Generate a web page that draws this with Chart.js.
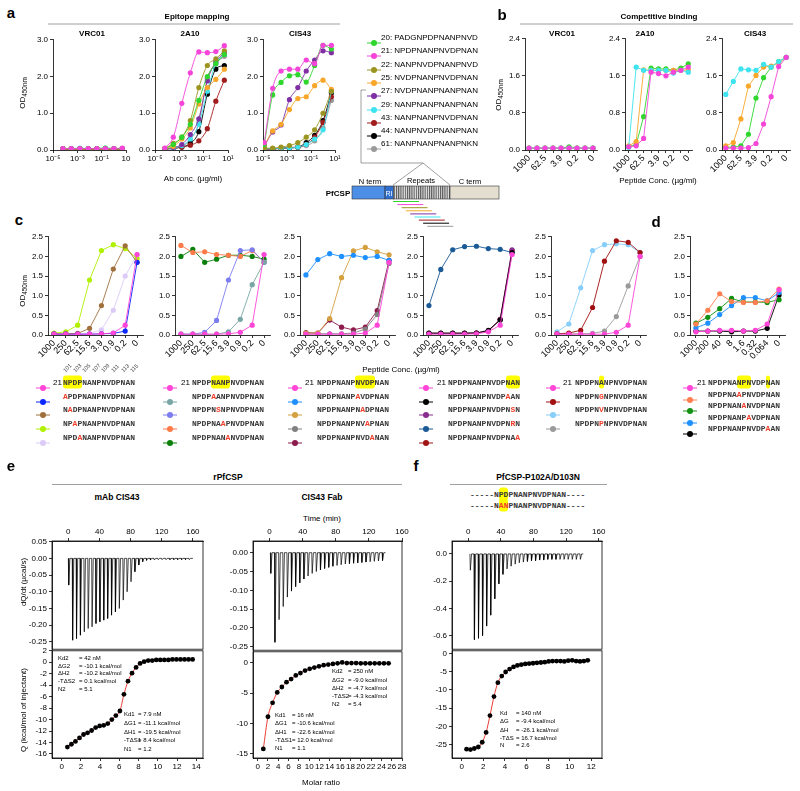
<!DOCTYPE html>
<html><head><meta charset="utf-8">
<script src="https://cdn.jsdelivr.net/npm/chart.js@4.4.1/dist/chart.umd.min.js"></script>
<style>
body{margin:0;background:#fff;width:800px;height:791px;position:relative;overflow:hidden;font-family:'Liberation Sans',Arial,sans-serif;}
.t{position:absolute;white-space:nowrap;line-height:1;color:#000;}
.t sub{font-size:0.8em;vertical-align:-0.25em;}
.hl{background:#ffff00;border-radius:3px;padding:2px 0;}
canvas{position:absolute;}
</style></head><body>
<svg id="sk" width="800" height="791" style="position:absolute;left:0;top:0"></svg>
<script>
// ---------- panel a: epitope mapping ----------
const conc8 = [0.000064, 0.00032, 0.0016, 0.008, 0.04, 0.2, 1, 5];
const conc9 = [0.0000128, 0.000064, 0.00032, 0.0016, 0.008, 0.04, 0.2, 1, 5];
const pepNames = ['20: PADGNPDPNANPNVD', '21: NPDPNANPNVDPNAN', '22: NANPNVDPNANPNVD', '25: NVDPNANPNVDPNAN',
  '27: NVDPNANPNANPNAN', '29: NANPNANPNANPNAN', '43: NANPNANPNVDPNAN', '44: NANPNVDPNANPNAN', '61: NANPNANPNANPNKN'];
const pepColors = ['#2ed62e', '#f545d9', '#9c9420', '#f9a72a', '#7f2fa3', '#3de3ef', '#a11c1c', '#000000', '#9a9a9a'];
const aVRC01 = [
  [0.04, 0.04, 0.04, 0.04, 0.04, 0.05, 0.04, 0.04],
  [0.04, 0.04, 0.04, 0.04, 0.04, 0.04, 0.04, 0.05],
  [0.03, 0.03, 0.03, 0.03, 0.03, 0.03, 0.03, 0.03],
  [0.03, 0.03, 0.03, 0.03, 0.03, 0.03, 0.03, 0.03],
  [0.03, 0.03, 0.03, 0.03, 0.03, 0.03, 0.03, 0.03],
  [0.04, 0.04, 0.05, 0.04, 0.04, 0.05, 0.04, 0.04],
  [0.03, 0.03, 0.03, 0.03, 0.03, 0.03, 0.03, 0.03],
  [0.03, 0.03, 0.03, 0.03, 0.03, 0.03, 0.03, 0.03],
  [0.03, 0.03, 0.03, 0.03, 0.03, 0.03, 0.03, 0.03]];
const a2A10 = [
  [0.04, 0.15, 0.35, 0.7, 1.35, 2.0, 2.35, 2.6],
  [0.05, 0.35, 1.27, 2.1, 2.67, 2.65, 2.68, 2.84],
  [0.04, 0.18, 0.35, 0.8, 1.7, 2.3, 2.48, 2.7],
  [0.04, 0.1, 0.3, 0.6, 1.25, 1.7, 1.92, 2.2],
  [0.03, 0.07, 0.15, 0.42, 0.85, 1.88, 2.4, 2.65],
  [0.03, 0.05, 0.12, 0.3, 0.7, 1.6, 2.35, 2.6],
  [0.02, 0.04, 0.08, 0.13, 0.25, 0.58, 1.33, 1.9],
  [0.03, 0.05, 0.08, 0.18, 0.5, 1.52, 2.2, 2.3],
  [0.03, 0.05, 0.1, 0.28, 0.75, 1.95, 2.35, 2.55]];
const aCIS43 = [
  [0.15, 1.5, 1.84, 2.02, 2.05, 1.85, 2.3, 2.85, 2.75],
  [0.2, 1.68, 2.15, 2.2, 2.2, 2.45, 2.35, 2.85, 2.85],
  [0.05, 0.05, 0.08, 0.12, 0.2, 0.35, 0.55, 1.0, 1.6],
  [0.12, 0.52, 0.7, 1.1, 1.4, 1.45, 1.75, 1.9, 1.65],
  [0.1, 0.49, 0.68, 1.37, 1.7, 2.15, 2.45, 2.7, 2.65],
  [0.04, 0.04, 0.05, 0.06, 0.08, 0.15, 0.3, 0.55, 1.6],
  [0.03, 0.03, 0.05, 0.07, 0.08, 0.15, 0.35, 0.75, 1.45],
  [0.03, 0.03, 0.05, 0.06, 0.08, 0.2, 0.4, 0.8, 1.55],
  [0.03, 0.03, 0.04, 0.05, 0.07, 0.12, 0.25, 0.6, 1.35]];
const logTicks = [1e-5, 1e-3, 1e-1, 10];
const logLbl = ['10\u207B\u2075', '10\u207B\u00B3', '10\u207B\u00B9', '10\u00B9'];
const logLblV = ['10\u207B\u2075', '10\u207B\u00B3', '10\u207B\u00B9', '10'];
const odTicksA = [0, 1, 2, 3];

// ---------- panel b: competitive binding ----------
const concB = ['1000', '250', '62.5', '15.6', '3.9', '0.9', '0.2', '0.05', '0'];
const bPep = [5, 3, 0, 1]; // 29, 25, 20, 21
const bVRC01 = [
  [0.04, 0.04, 0.04, 0.04, 0.04, 0.04, 0.04, 0.04, 0.04],
  [0.04, 0.04, 0.04, 0.04, 0.04, 0.04, 0.04, 0.04, 0.04],
  [0.04, 0.04, 0.04, 0.04, 0.04, 0.07, 0.04, 0.04, 0.04],
  [0.04, 0.04, 0.04, 0.04, 0.04, 0.04, 0.04, 0.04, 0.04]];
const b2A10 = [
  [0.06, 1.79, 1.72, 1.72, 1.72, 1.72, 1.66, 1.72, 1.68],
  [0.09, 0.18, 1.73, 1.72, 1.72, 1.72, 1.72, 1.72, 1.73],
  [0.07, 0.12, 0.72, 1.77, 1.75, 1.75, 1.72, 1.77, 1.86],
  [0.07, 0.09, 0.25, 1.68, 1.65, 1.6, 1.68, 1.72, 1.79]];
const bCIS43 = [
  [1.2, 1.48, 1.75, 1.73, 1.72, 1.85, 1.79, 1.91, 2.0],
  [0.09, 0.16, 0.67, 1.38, 1.61, 1.79, 1.81, 1.88, 2.0],
  [0.06, 0.06, 0.09, 0.34, 1.12, 1.56, 1.79, 1.91, 2.0],
  [0.04, 0.04, 0.04, 0.05, 0.14, 0.56, 1.15, 1.8, 2.0]];
const odTicksB = [0, 0.8, 1.6, 2.4];

// ---------- panels c, d: alanine scan ----------
const wt = 'NPDPNANPNVDPNAN';
const concC = ['1000', '250', '62.5', '15.6', '3.9', '0.9', '0.2', '0'];
const concD = ['1000', '200', '40', '8', '1.6', '0.32', '0.064', '0'];
const odTicksC = [0, 0.5, 1, 1.5, 2, 2.5];
const cSeqs1 = [wt, 'APDPNANPNVDPNAN', 'NADPNANPNVDPNAN', 'NPAPNANPNVDPNAN', 'NPDANANPNVDPNAN'];
const cCols1 = ['#ff45d8', '#0a28ff', '#a0703c', '#b0f000', '#dccbf7'];
const cVals1 = [
  [0.02, 0.02, 0.02, 0.02, 0.03, 0.05, 0.25, 2.05],
  [0.02, 0.02, 0.02, 0.02, 0.03, 0.04, 0.1, 1.85],
  [0.03, 0.03, 0.04, 0.17, 0.75, 1.68, 2.27, 1.85],
  [0.05, 0.08, 0.25, 1.4, 2.15, 2.3, 2.2, 1.95],
  [0.02, 0.02, 0.03, 0.04, 0.13, 0.63, 1.5, 2.05]];
const cSeqs2 = [wt, 'NPDPAANPNVDPNAN', 'NPDPNSNPNVDPNAN', 'NPDPNAAPNVDPNAN', 'NPDPNANANVDPNAN'];
const cCols2 = ['#ff45d8', '#78a6a6', '#7d7df0', '#ff7a48', '#0a800a'];
const cVals2 = [
  [0.02, 0.02, 0.02, 0.02, 0.03, 0.07, 0.25, 2.05],
  [0.02, 0.02, 0.02, 0.02, 0.08, 0.4, 1.28, 1.85],
  [0.02, 0.02, 0.07, 0.37, 1.4, 2.15, 2.17, 1.85],
  [2.28, 2.1, 2.12, 2.05, 2.03, 2.0, 2.15, 1.85],
  [2.0, 2.18, 1.85, 1.93, 2.03, 2.03, 2.0, 1.93]];
const cSeqs3 = [wt, 'NPDPNANPAVDPNAN', 'NPDPNANPNADPNAN', 'NPDPNANPNVAPNAN', 'NPDPNANPNVDANAN'];
const cCols3 = ['#ff45d8', '#1e90ff', '#d4a040', '#808080', '#8c1a4c'];
const cVals3 = [
  [0.02, 0.02, 0.02, 0.02, 0.02, 0.05, 0.25, 1.85],
  [1.53, 1.92, 2.07, 2.0, 2.03, 1.97, 2.0, 1.9],
  [0.05, 0.05, 0.42, 1.46, 2.14, 2.23, 2.12, 2.04],
  [0.03, 0.03, 0.03, 0.03, 0.05, 0.15, 0.52, 1.82],
  [0.06, 0.05, 0.38, 0.2, 0.13, 0.2, 0.62, 1.9]];
const cSeqs4 = [wt, 'NPDPNANPNVDPAAN', 'NPDPNANPNVDPNSN', 'NPDPNANPNVDPNRN', 'NPDPNANPNVDPNAA'];
const cCols4 = ['#ff45d8', '#000000', '#8a2c8e', '#1a5a96', '#a01414'];
const cVals4 = [
  [0.02, 0.02, 0.02, 0.02, 0.03, 0.08, 0.25, 2.05],
  [0.05, 0.05, 0.05, 0.05, 0.05, 0.12, 0.38, 2.1],
  [0.04, 0.04, 0.04, 0.04, 0.05, 0.1, 0.4, 2.17],
  [0.75, 1.67, 2.17, 2.25, 2.26, 2.2, 2.18, 2.1],
  [0.04, 0.04, 0.04, 0.04, 0.05, 0.1, 0.4, 2.15]];
const cSeqs5 = [wt, 'NPDPNGNPNVDPNAN', 'NPDPNVNPNVDPNAN', 'NPDPNPNPNVDPNAN'];
const cCols5 = ['#ff45d8', '#a01010', '#87cefa', '#9a9a9a'];
const cVals5 = [
  [0.02, 0.02, 0.02, 0.02, 0.02, 0.07, 0.25, 2.0],
  [0.03, 0.05, 0.12, 0.7, 1.88, 2.4, 2.36, 2.1],
  [0.08, 0.28, 1.2, 2.15, 2.3, 2.32, 2.3, 2.1],
  [0.03, 0.03, 0.03, 0.04, 0.1, 0.47, 1.25, 2.0]];
const dSeqs = [wt, 'NPDPNAAPNVDPNAN', 'NPDPNANANVDPNAN', 'NPDPNANPAVDPNAN', 'NPDPNANPNVDPAAN'];
const dCols = ['#ff45d8', '#ff7f50', '#129012', '#1e90ff', '#000000'];
const dVals = [
  [0.08, 0.1, 0.12, 0.12, 0.1, 0.12, 0.28, 1.15],
  [0.28, 0.63, 1.05, 0.85, 0.83, 0.83, 0.87, 1.17],
  [0.3, 0.45, 0.67, 0.93, 0.84, 0.84, 0.83, 0.9],
  [0.18, 0.3, 0.52, 0.75, 0.95, 0.95, 0.87, 1.08],
  [0.1, 0.1, 0.1, 0.08, 0.1, 0.1, 0.17, 1.02]];

// ---------- panels e, f: ITC ----------
const eL_t = [0, 5, 10, 15, 20, 25, 30, 35, 40, 45, 50, 55, 60, 65, 70, 75, 80, 85, 90, 95, 100, 105, 110, 115, 120, 125, 130, 135, 140, 145, 150, 155];
const eL_d = [-0.08, -0.245, -0.24, -0.23, -0.22, -0.21, -0.205, -0.195, -0.19, -0.185, -0.18, -0.17, -0.16, -0.15, -0.125, -0.1,
  -0.07, -0.04, -0.02, -0.01, -0.006, -0.005, -0.005, -0.004, -0.004, -0.004, -0.004, -0.004, -0.004, -0.004, -0.004, -0.004];
const eL_x = [0.6, 1.02, 1.44, 1.86, 2.28, 2.7, 3.12, 3.54, 3.96, 4.38, 4.8, 5.22, 5.64, 6.06, 6.48, 6.9, 7.32, 7.74, 8.16, 8.58,
  9.0, 9.42, 9.84, 10.26, 10.68, 11.1, 11.52, 11.94, 12.36, 12.78, 13.2, 13.62];
const eL_q = [-14.8, -14.3, -13.8, -13.2, -12.6, -12.3, -11.9, -11.4, -11.1, -11.0, -10.7, -10.0, -9.3, -8.5, -5.6, -3.3, -1.9, -0.9,
  -0.2, 0.1, 0.3, 0.3, 0.4, 0.4, 0.4, 0.4, 0.5, 0.5, 0.5, 0.5, 0.5, 0.5];
const eM_t = [1, 6, 11, 16, 21, 26, 31, 36, 41, 46, 51, 56, 61, 66, 71, 76, 81, 86, 91, 96, 101, 106, 111, 116, 121, 126, 131, 136];
const eM_d = [-0.055, -0.238, -0.178, -0.143, -0.118, -0.102, -0.09, -0.08, -0.07, -0.062, -0.055, -0.05, -0.046, -0.042, -0.039,
  -0.036, -0.034, -0.032, -0.03, -0.029, -0.028, -0.027, -0.026, -0.025, -0.024, -0.023, -0.022, -0.021];
const eM_x = [1.1, 2.0, 2.9, 3.8, 4.7, 5.6, 6.5, 7.4, 8.3, 9.2, 10.1, 11.0, 11.9, 12.8, 13.7, 14.6, 15.5, 16.4, 17.3, 18.2, 19.1,
  20.0, 20.9, 21.8, 22.7, 23.6, 24.5, 25.4];
const eM_q = [-14.2, -8.9, -6.6, -4.9, -4.0, -3.2, -2.7, -2.1, -1.7, -1.3, -1.0, -0.8, -0.6, -0.4, -0.3, -0.2, -0.1, 0.05, -0.05,
  -0.05, -0.05, -0.1, -0.1, -0.1, -0.1, -0.1, -0.1, -0.1];
const f_t = [2, 7, 12, 17, 22, 27, 32, 37, 42, 47, 52, 57, 62, 67, 72, 77, 82, 87, 92, 97, 102, 107, 112, 117, 122, 127, 132, 137];
const f_d = [-0.12, -0.63, -0.62, -0.6, -0.53, -0.45, -0.33, -0.22, -0.15, -0.11, -0.09, -0.075, -0.065, -0.06, -0.055, -0.05,
  -0.05, -0.045, -0.045, -0.04, -0.04, -0.04, -0.04, -0.04, -0.04, -0.04, -0.04, -0.04];
const f_x = [0.45, 0.81, 1.17, 1.54, 1.9, 2.26, 2.62, 2.99, 3.35, 3.71, 4.07, 4.44, 4.8, 5.16, 5.52, 5.89, 6.25, 6.61, 6.97, 7.34,
  7.7, 8.06, 8.42, 8.79, 9.15, 9.51, 9.87, 10.24, 10.6, 10.96, 11.32, 11.68];
const f_q = [-26.2, -26.3, -26.0, -25.6, -24.3, -21.6, -17.0, -11.8, -8.0, -6.2, -5.1, -4.3, -3.7, -3.3, -3.1, -2.9, -2.8, -2.7,
  -2.6, -2.5, -2.4, -2.2, -2.1, -2.1, -2.1, -2.2, -2.0, -1.9, -2.1, -2.2, -2.1, -1.9];
const timeTicks = [0, 40, 80, 120, 160];

Chart.defaults.font.family = "'Liberation Sans', Arial, sans-serif";
Chart.defaults.color = '#000';

// ---------- helpers ----------
function mk(L, T, W, H, m, sides, cfg, plugins) {
  const cv = document.createElement('canvas');
  cv.width = W + m[1] + m[3];
  cv.height = H + m[0] + m[2];
  cv.style.left = (L - m[3]) + 'px';
  cv.style.top = (T - m[0]) + 'px';
  document.body.appendChild(cv);
  Object.assign(cfg.options, {
    responsive: false, animation: false, devicePixelRatio: 1, events: [],
    layout: {padding: {top: sides.includes('t') ? 0 : m[0], right: m[1], bottom: sides.includes('b') ? 0 : m[2], left: 0}},
    plugins: {legend: {display: false}, tooltip: {enabled: false}}
  });
  cfg.plugins = plugins || [];
  return new Chart(cv, cfg);
}
const gridOpt = {drawOnChartArea: false, tickLength: 3, color: '#000', lineWidth: 0.8};
const borderOpt = {color: '#000', width: 0.8};
function yAx(ticks, w, dec, min, max) {
  return {type: 'linear', position: 'left', min, max,
    afterBuildTicks: s => { s.ticks = ticks.map(v => ({value: v})); },
    afterFit: s => { s.width = w; },
    ticks: {autoSkip: false, color: '#000', font: {size: 8}, padding: 2, callback: v => dec < 0 ? String(v) : v.toFixed(dec)},
    grid: gridOpt, border: borderOpt};
}
function xCat(labels, h, every) {
  return {type: 'category', labels, offset: true,
    afterFit: s => { s.height = h; },
    ticks: {autoSkip: false, minRotation: 45, maxRotation: 45, color: '#000', font: {size: 9}, padding: 0,
      callback: (v, i) => (i % every ? '' : labels[i])},
    grid: gridOpt, border: borderOpt};
}
function xLog(h, lbls) {
  return {type: 'logarithmic', min: 1e-5, max: 10,
    afterBuildTicks: s => { s.ticks = logTicks.map(v => ({value: v})); },
    afterFit: s => { s.height = h; },
    ticks: {autoSkip: false, maxRotation: 0, color: '#000', font: {size: 8}, padding: 1, callback: (v, i) => lbls[i]},
    grid: gridOpt, border: borderOpt};
}
function xLin(pos, min, max, ticks, h) {
  return {type: 'linear', position: pos, min, max,
    afterBuildTicks: s => { s.ticks = ticks.map(v => ({value: v})); },
    afterFit: s => { s.height = h; },
    ticks: {autoSkip: false, maxRotation: 0, color: '#000', font: {size: 8}, padding: 1, callback: v => String(v)},
    grid: gridOpt, border: borderOpt};
}
function ser(data, col, extra) {
  return Object.assign({data, borderColor: col, backgroundColor: col, pointBackgroundColor: col, pointRadius: 2.6,
    pointBorderWidth: 0, borderWidth: 0.9, tension: 0}, extra || {});
}
const frame = {id: 'frame', afterDraw(c) {
  const a = c.chartArea, x = c.ctx;
  x.save(); x.strokeStyle = '#000'; x.lineWidth = 0.8;
  x.strokeRect(a.left, a.top, a.right - a.left, a.bottom - a.top); x.restore();
}};
function txt(s, x, y, o) {
  o = o || {};
  const d = document.createElement('div');
  d.className = 't';
  d.innerHTML = s;
  const ax = o.a === 'l' ? '0' : o.a === 'r' ? '-100%' : '-50%';
  d.style.left = x + 'px';
  d.style.top = y + 'px';
  d.style.font = (o.w || 'normal') + ' ' + (o.s || 8) + 'px ' + (o.f || "'Liberation Sans', Arial, sans-serif");
  if (o.c) d.style.color = o.c;
  d.style.transform = 'translate(' + ax + ',-50%)' + (o.r ? ' rotate(' + o.r + 'deg)' : '');
  document.body.appendChild(d);
  return d;
}
function marker(cx, cy, col) {
  const d = document.createElement('div');
  d.style.cssText = 'position:absolute;left:' + (cx - 7) + 'px;top:' + (cy - 4) + 'px;width:14px;height:8px';
  d.innerHTML = '<svg width="14" height="8"><line x1="0" y1="4" x2="14" y2="4" stroke="' + col +
    '" stroke-width="1"/><circle cx="7" cy="4" r="3" fill="' + col + '"/></svg>';
  document.body.appendChild(d);
}
function chr(s, ref, j) {
  return s[j] !== ref[j] ? '<span style="color:#f03c28">' + s[j] + '</span>' : s[j];
}
function seqHTML(s, ref, hi) {
  let out = '', k = 0;
  while (k < s.length) {
    const h = hi.find(p => p[0] === k);
    if (h) {
      let inner = '';
      for (let j = h[0]; j <= h[1]; j++) inner += chr(s, ref, j);
      out += '<span class="hl">' + inner + '</span>';
      k = h[1] + 1;
    } else { out += chr(s, ref, k); k++; }
  }
  return out;
}
const mono = {a: 'l', s: 8, w: 'bold', f: "'Liberation Mono', monospace", c: '#3a3a3a'};

// ---------- schematic and header lines ----------
let sv = '<defs><pattern id="hatch" width="2.2" height="4" patternUnits="userSpaceOnUse"><rect width="2.2" height="4" fill="#e6e6e6"/>' +
  '<line x1="0.6" y1="0" x2="0.6" y2="4" stroke="#222" stroke-width="0.8"/></pattern></defs>' +
  '<line x1="48" y1="24" x2="340" y2="24" stroke="#888" stroke-width="0.8"/>' +
  '<line x1="520" y1="24" x2="793" y2="24" stroke="#888" stroke-width="0.8"/>' +
  '<line x1="52" y1="484.5" x2="402" y2="484.5" stroke="#888" stroke-width="0.8"/>' +
  '<line x1="450" y1="484.5" x2="607" y2="484.5" stroke="#888" stroke-width="0.8"/>' +
  '<polyline points="366,90 361,90 361,163 423,163" fill="none" stroke="#777" stroke-width="0.7"/>' +
  '<polyline points="393,185 423,163 450,185" fill="none" stroke="#777" stroke-width="0.7"/>' +
  '<rect x="352" y="186" width="33" height="13" fill="#4d8fe6" stroke="#333" stroke-width="0.6"/>' +
  '<rect x="385" y="186" width="8.5" height="13" fill="#2f6fd0" stroke="#333" stroke-width="0.6"/>' +
  '<rect x="393.5" y="186" width="56.5" height="13" fill="url(#hatch)" stroke="#333" stroke-width="0.6"/>' +
  '<rect x="450" y="186" width="49" height="13" fill="#e3ded0" stroke="#333" stroke-width="0.6"/>';
pepColors.forEach((c, i) => {
  sv += '<line x1="' + (393 + i * 4.3) + '" y1="' + (201.5 + i * 3.1) + '" x2="' + (419 + i * 4.3) + '" y2="' + (201.5 + i * 3.1) +
    '" stroke="' + c + '" stroke-width="1"/>';
});
document.getElementById('sk').innerHTML = sv;

// ---------- panel a ----------
function aChart(L, R, vals, conc, lbls, curve) {
  mk(L, 39, R - L, 111, [6, 8, 14, 30], 'lb', {
    type: 'line',
    data: {datasets: vals.map((v, i) => ser(v.map((y, j) => ({x: conc[j], y})), pepColors[i],
      {order: i === 1 ? -1 : i, cubicInterpolationMode: curve ? 'monotone' : 'default'}))},
    options: {scales: {x: xLog(14, lbls), y: yAx(odTicksA, 30, 1, 0, 3)}}
  });
}
aChart(53, 126, aVRC01, conc8, logLblV, false);
aChart(155, 228, a2A10, conc8, logLbl, true);
aChart(263, 335, aCIS43, conc9, logLbl, true);
txt('a', 11, 12, {s: 15, w: 'bold'});
txt('Epitope mapping', 197, 16, {w: 'bold'});
txt('VRC01', 92, 33, {w: 'bold'});
txt('2A10', 190, 33, {w: 'bold'});
txt('CIS43', 300, 33, {w: 'bold'});
txt('OD<sub>450nm</sub>', 23, 93, {r: -90});
txt('Ab conc. (\u00B5g/ml)', 193, 178);
pepNames.forEach((n, i) => {
  marker(374, 37 + i * 13.3, pepColors[i]);
  txt(n, 381, 37 + i * 13.3, {a: 'l'});
});
txt('PfCSP', 338, 193, {w: 'bold'});
txt('N term', 370, 181, {s: 7.5});
txt('Repeats', 421, 180, {s: 7.5});
txt('C term', 470, 181, {s: 7.5});
txt('RI', 389, 193, {s: 7, c: '#fff'});

// ---------- panel b ----------
function bChart(L, R, vals) {
  mk(L, 38, R - L, 112, [6, 6, 30, 28], 'lb', {
    type: 'line',
    data: {labels: concB, datasets: vals.map((v, i) => ser(v, pepColors[bPep[i]], {order: i === 3 ? -1 : i}))},
    options: {scales: {x: xCat(concB, 30, 2), y: yAx(odTicksB, 28, 1, 0, 2.4)}}
  });
}
bChart(525, 597, bVRC01);
bChart(625, 692, b2A10);
bChart(722, 790, bCIS43);
txt('b', 502, 14, {s: 15, w: 'bold'});
txt('Competitive binding', 659, 16, {w: 'bold'});
txt('VRC01', 562, 33, {w: 'bold'});
txt('2A10', 645, 33, {w: 'bold'});
txt('CIS43', 755, 33, {w: 'bold'});
txt('OD<sub>450nm</sub>', 499, 95, {r: -90});
txt('Peptide Conc. (\u00B5g/ml)', 658, 180);

// ---------- panels c, d ----------
function cChart(L, vals, cols, labels) {
  mk(L, 236, 95, 99, [6, 6, 30, 28], 'lb', {
    type: 'line',
    data: {labels, datasets: vals.map((v, i) => ser(v, cols[i]))},
    options: {scales: {x: xCat(labels, 30, 1), y: yAx(odTicksC, 28, 1, 0, 2.5)}}
  });
}
cChart(48, cVals1, cCols1, concC);
cChart(175, cVals2, cCols2, concC);
cChart(300, cVals3, cCols3, concC);
cChart(423, cVals4, cCols4, concC);
cChart(551, cVals5, cCols5, concC);
cChart(690, dVals, dCols, concD);
txt('c', 19, 219, {s: 15, w: 'bold'});
txt('d', 656, 221, {s: 15, w: 'bold'});
txt('OD<sub>450nm</sub>', 23, 291, {r: -90});
txt('Peptide Conc. (\u00B5g/ml)', 401, 369);

function legendCol(mx, nx, sx, ys, seqs, cols, hi) {
  seqs.forEach((s, r) => {
    marker(mx, ys[r], cols[r]);
    if (r === 0) txt('21', nx, ys[r], {a: 'l'});
    txt(seqHTML(s, wt, r === 0 ? hi : []), sx, ys[r], mono);
  });
}
const rowsC = [382, 395.5, 409, 423, 437];
legendCol(43, 53, 63, rowsC, cSeqs1, cCols1, [[0, 3]]);
legendCol(170, 181, 192, rowsC, cSeqs2, cCols2, [[4, 7]]);
legendCol(295, 305, 317, rowsC, cSeqs3, cCols3, [[8, 11]]);
legendCol(426, 437, 448, rowsC, cSeqs4, cCols4, [[12, 14]]);
legendCol(553, 563, 575, rowsC, cSeqs5, cCols5, [[5, 5]]);
legendCol(690, 697, 708, [382, 393.5, 405, 416.5, 428], dSeqs, dCols, [[6, 8], [12, 12]]);
['101', '103', '105', '107', '109', '111', '113', '115'].forEach((n, j) => {
  const d = txt(n, 64 + j * 9.6, 371, {a: 'l', s: 5.5, c: '#333'});
  d.style.transformOrigin = '0 50%';
  d.style.transform = 'translate(0,-50%) rotate(-45deg)';
});

// ---------- panels e, f ----------
function trace(times, depths, tEnd) {
  const pts = [];
  times.forEach((t, i) => { pts.push({x: t, y: 0}, {x: t + 0.5, y: depths[i]}, {x: t + 2, y: 0}); });
  pts.push({x: tEnd, y: 0});
  return pts;
}
function itcTop(L, W, H, xmin, xmax, ymin, ymax, yt, dec, times, depths, tEnd) {
  mk(L, 541, W, H, [14, 8, 6, 30], 'tl', {
    type: 'line',
    data: {datasets: [{data: trace(times, depths, tEnd), borderColor: '#000', borderWidth: 0.7, pointRadius: 0, tension: 0}]},
    options: {scales: {x: xLin('top', xmin, xmax, timeTicks, 14), y: yAx(yt, 30, dec, ymin, ymax)}}
  }, [frame]);
}
function itcBot(L, T, W, H, xmin, xmax, xt, ymin, ymax, yt, xs, qs) {
  mk(L, T, W, H, [6, 8, 14, 30], 'lb', {
    type: 'line',
    data: {datasets: [{data: xs.map((x, i) => ({x, y: qs[i]})), borderColor: '#e8281e', borderWidth: 0.9,
      pointBackgroundColor: '#000', pointBorderWidth: 0, pointRadius: 2.4, cubicInterpolationMode: 'monotone'}]},
    options: {scales: {x: xLin('bottom', xmin, xmax, xt, 14), y: yAx(yt, 30, -1, ymin, ymax)}}
  }, [frame]);
}
itcTop(52, 151, 109, -21, 173, -0.272, 0.052, [0.05, 0, -0.05, -0.1, -0.15, -0.2, -0.25], 2, eL_t, eL_d, 160);
itcBot(52, 650, 151, 108, -1, 14.7, [0, 2, 4, 6, 8, 10, 12, 14], -16.7, 2,
  [2, 0, -2, -4, -6, -8, -10, -12, -14, -16], eL_x, eL_q);
itcTop(253, 149, 110, -20, 160, -0.259, 0.031, [0, -0.05, -0.1, -0.15, -0.2, -0.25], 2, eM_t, eM_d, 140);
itcBot(253, 651, 149, 107, -0.9, 28, [0, 2, 4, 6, 8, 10, 12, 14, 16, 18, 20, 22, 24, 26, 28], -15.7, 1.8,
  [0, -5, -10, -15], eM_x, eM_q);
itcTop(452, 150, 109, -20, 164, -0.70, 0.095, [0, -0.2, -0.4, -0.6], 1, f_t, f_d, 141);
itcBot(452, 650, 150, 108, -0.9, 13, [0, 2, 4, 6, 8, 10, 12], -28.6, 0.7, [0, -5, -10, -15, -20, -25], f_x, f_q);

txt('e', 11, 465, {s: 15, w: 'bold'});
txt('f', 416, 465, {s: 15, w: 'bold'});
txt('rPfCSP', 228, 477, {w: 'bold', s: 8.5});
txt('mAb CIS43', 117, 497, {w: 'bold', s: 8.5});
txt('CIS43 Fab', 322, 497, {w: 'bold', s: 8.5});
txt('Time (min)', 322, 517.5);
txt('PfCSP-P102A/D103N', 538, 477, {w: 'bold', s: 8.5});
txt('dQ/dt (\u00B5cal/s)', 23, 582, {r: -90});
txt('Q (kcal/mol of injectant)', 23, 710, {r: -90});
txt('Molar ratio', 321, 781.5);
const fRef = '-----NPDPNANPNVDPNAN----';
txt(seqHTML(fRef, fRef, [[6, 7]]), 470, 493.5, mono);
txt(seqHTML('-----NANPNANPNVDPNAN----', fRef, [[6, 7]]), 470, 505, mono);

function thermo(lx, vx, ys, rows) {
  rows.forEach((r, i) => {
    txt(r[0], lx, ys[i], {a: 'l', s: 6});
    txt(r[1], vx, ys[i], {a: 'l', s: 6});
  });
}
thermo(58, 79, [657.7, 665.5, 673.3, 681, 689], [['Kd2', '= 42 nM'], ['\u0394G2', '= -10.1 kcal/mol'], ['\u0394H2', '= -10.2 kcal/mol'],
  ['-T\u0394S2', '= 0.1 kcal/mol'], ['N2', '= 5.1']]);
thermo(124, 138, [714, 723, 731.5, 740, 748.5], [['Kd1', '= 7.9 nM'], ['\u0394G1', '= -11.1 kcal/mol'], ['\u0394H1', '= -19.5 kcal/mol'],
  ['-T\u0394S1', '= 8.4 kcal/mol'], ['N1', '= 1.2']]);
thermo(332, 348, [670.7, 680, 688.3, 696, 703.5], [['Kd2', '= 250 nM'], ['\u0394G2', '= -9.0 kcal/mol'], ['\u0394H2', '= -4.7 kcal/mol'],
  ['-T\u0394S2', '= -4.3 kcal/mol'], ['N2', '= 5.4']]);
thermo(275, 292, [715, 723.3, 731.7, 739.5, 748.3], [['Kd1', '= 16 nM'], ['\u0394G1', '= -10.6 kcal/mol'], ['\u0394H1', '= -22.6 kcal/mol'],
  ['-T\u0394S1', '= 12.0 kcal/mol'], ['N1', '= 1.1']]);
thermo(500, 516, [713, 721, 729.5, 737.5, 745], [['Kd', '= 140 nM'], ['\u0394G', '= -9.4 kcal/mol'], ['\u0394H', '= -26.1 kcal/mol'],
  ['-T\u0394S', '= 16.7 kcal/mol'], ['N', '= 2.6']]);
</script>
</body></html>
